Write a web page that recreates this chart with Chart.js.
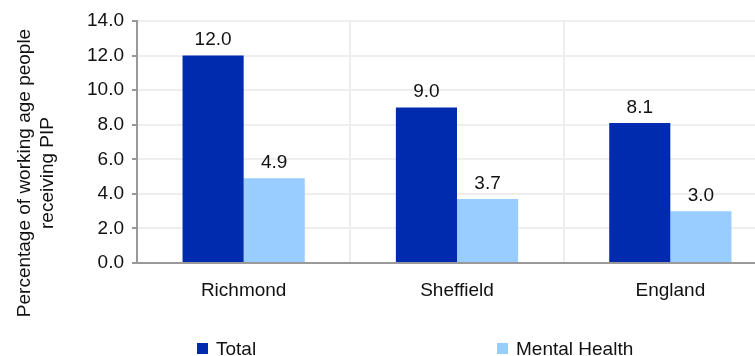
<!DOCTYPE html>
<html>
<head>
<meta charset="utf-8">
<script src="https://cdn.jsdelivr.net/npm/chart.js@4"></script>
<style>
  html, body { margin: 0; padding: 0; background: #fff; overflow: hidden; }
  #wrap { width: 755px; height: 356px; overflow: hidden; }
</style>
</head>
<body>
<div id="wrap"><canvas id="pipChart" width="777" height="356"></canvas></div>
<script>
// Chart data
const categories = ['Richmond', 'Sheffield', 'England'];
const totalValues = [12.0, 9.0, 8.1];
const mentalHealthValues = [4.9, 3.7, 3.0];
const yTitleLines = ['Percentage of working age people', 'receiving PIP'];
const seriesNames = ['Total', 'Mental Health'];
const seriesColors = ['#002BAE', '#99CCFF'];

const FONT = 'Arial, "Liberation Sans", sans-serif';
const FONT_SIZE = 19;

// Value labels above each bar
const barLabels = {
    id: 'barLabels',
    afterDatasetsDraw(chart) {
        const ctx = chart.ctx;
        ctx.save();
        ctx.font = FONT_SIZE + 'px ' + FONT;
        ctx.fillStyle = '#111';
        ctx.textAlign = 'center';
        ctx.textBaseline = 'bottom';
        chart.data.datasets.forEach((ds, i) => {
            chart.getDatasetMeta(i).data.forEach((bar, j) => {
                ctx.fillText(ds.data[j].toFixed(1), bar.x, bar.y - 6);
            });
        });
        ctx.restore();
    }
};

// Two-line rotated y axis title, centred on the canvas height
const yTitle = {
    id: 'yTitle',
    afterDraw(chart) {
        const ctx = chart.ctx;
        ctx.save();
        ctx.font = FONT_SIZE + 'px ' + FONT;
        ctx.fillStyle = '#111';
        ctx.textAlign = 'center';
        ctx.textBaseline = 'middle';
        const xs = [25, 48];
        yTitleLines.forEach((line, i) => {
            ctx.save();
            ctx.translate(xs[i], 173);
            ctx.rotate(-Math.PI / 2);
            ctx.fillText(line, 0, 0);
            ctx.restore();
        });
        ctx.restore();
    }
};

// Wide-spaced legend along the bottom
const wideLegend = {
    id: 'wideLegend',
    afterDraw(chart) {
        const ctx = chart.ctx;
        const starts = [197, 497];
        ctx.save();
        ctx.font = FONT_SIZE + 'px ' + FONT;
        ctx.textBaseline = 'alphabetic';
        ctx.textAlign = 'left';
        seriesNames.forEach((name, i) => {
            ctx.fillStyle = seriesColors[i];
            ctx.fillRect(starts[i], 343, 11, 11);
            ctx.fillStyle = '#111';
            ctx.fillText(name, starts[i] + 19, 355);
        });
        ctx.restore();
    }
};

const ctx = document.getElementById('pipChart').getContext('2d');
new Chart(ctx, {
    type: 'bar',
    data: {
        labels: categories,
        datasets: [
            {
                label: seriesNames[0],
                data: totalValues,
                backgroundColor: seriesColors[0],
                categoryPercentage: 0.573,
                barPercentage: 1.0
            },
            {
                label: seriesNames[1],
                data: mentalHealthValues,
                backgroundColor: seriesColors[1],
                categoryPercentage: 0.573,
                barPercentage: 1.0
            }
        ]
    },
    options: {
        responsive: false,
        animation: false,
        layout: { padding: { top: 21, right: 0, bottom: 0, left: 0 } },
        plugins: {
            legend: { display: false },
            tooltip: { enabled: false }
        },
        scales: {
            x: {
                afterFit(scale) { scale.height = 93; },
                grid: { offset: true, color: '#eeeeee', lineWidth: 2, drawTicks: false },
                border: { color: '#999', width: 2 },
                ticks: { color: '#111', padding: 16, font: { family: FONT, size: FONT_SIZE } }
            },
            y: {
                min: 0,
                max: 14,
                afterFit(scale) { scale.width = 137; },
                grid: { color: '#eeeeee', lineWidth: 2, tickLength: 5, tickColor: '#999' },
                border: { color: '#999', width: 2 },
                ticks: {
                    stepSize: 2,
                    color: '#111',
                    padding: 8,
                    font: { family: FONT, size: FONT_SIZE },
                    callback: v => v.toFixed(1)
                }
            }
        }
    },
    plugins: [barLabels, yTitle, wideLegend]
});
</script>
</body>
</html>
